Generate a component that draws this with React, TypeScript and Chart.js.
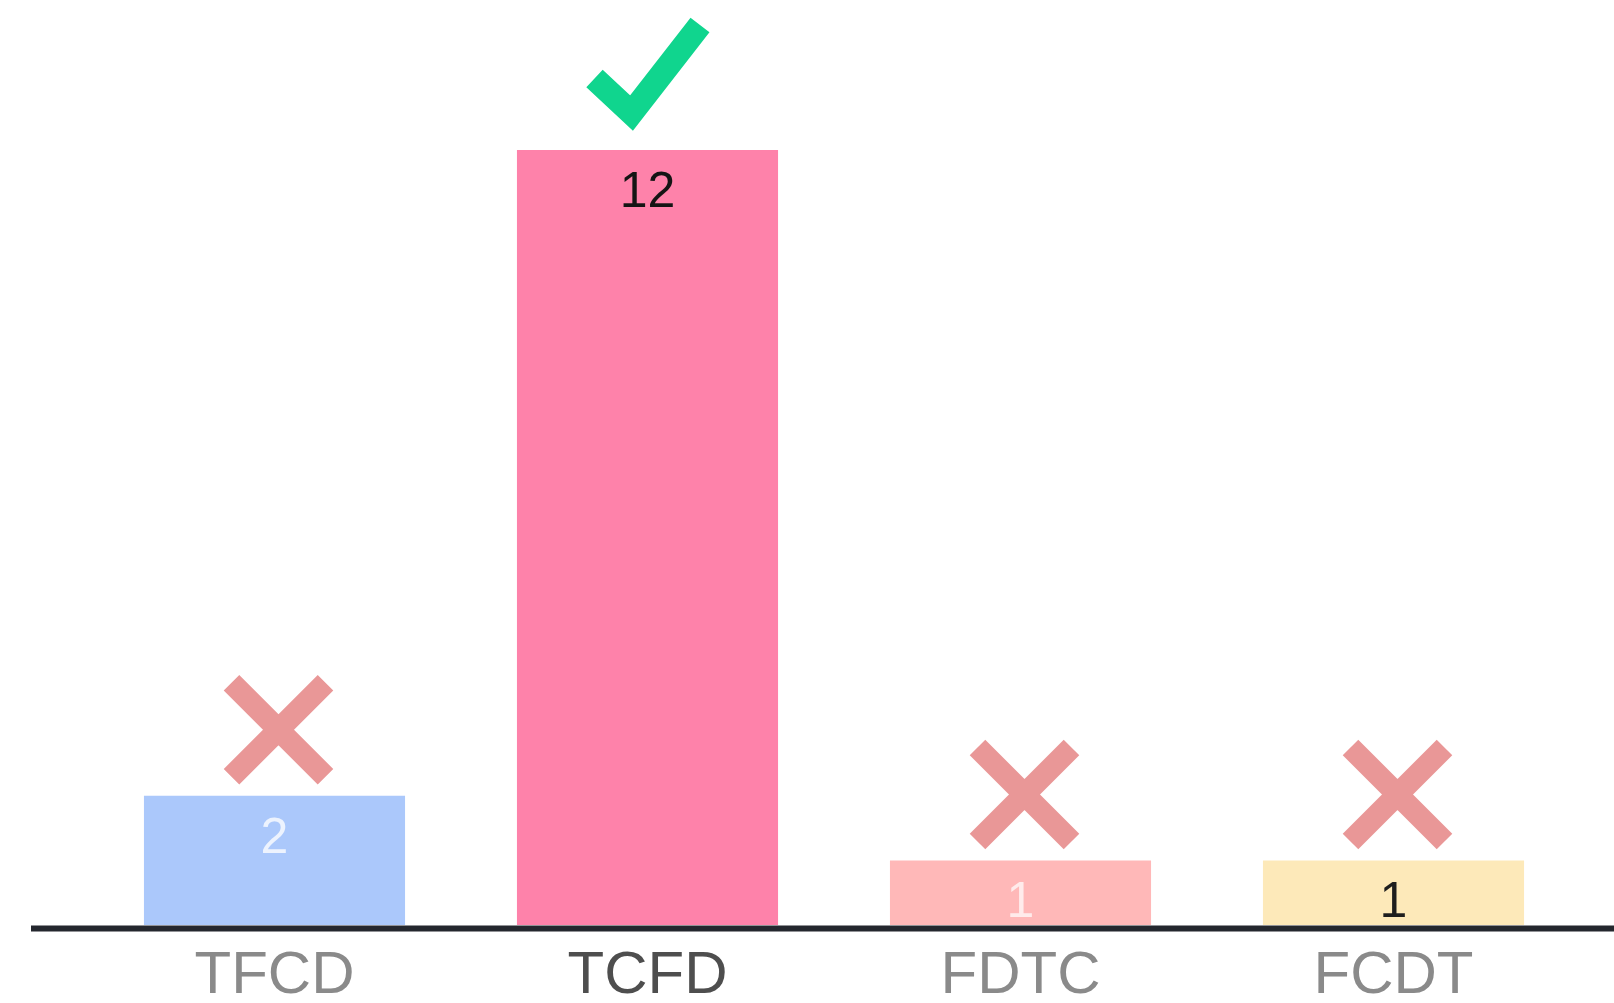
import React, { useEffect, useRef } from "react";
import { Chart, registerables } from "chart.js";

Chart.register(...registerables);

// Orderings and how many answers picked each
const categories = ["TFCD", "TCFD", "FDTC", "FCDT"];
const counts = [2, 12, 1, 1];
const barColors = ["#abc8fb", "#fe82aa", "#ffb8b8", "#fde9b9"];
const valueLabelColors = ["rgba(255,255,255,0.78)", "#141414", "rgba(255,255,255,0.72)", "#1e1e1e"];
const tickColors = ["#8a8a8a", "#4e4e4e", "#8a8a8a", "#8a8a8a"];
// Which ordering is the correct one
const verdicts = ["wrong", "right", "wrong", "wrong"];

const FONT = "'Liberation Sans', Arial, Helvetica, sans-serif";

// Draws the value inside each bar, the tick / cross marker above it and the base line
const decorations = {
  id: "decorations",
  afterDatasetsDraw(chart: any) {
    const { ctx, chartArea } = chart;
    const meta = chart.getDatasetMeta(0);
    const yScale = chart.scales.y;
    const base = yScale.getPixelForValue(0);

    ctx.save();
    // base line running across the page
    ctx.strokeStyle = "#24272e";
    ctx.lineWidth = 6;
    ctx.beginPath();
    ctx.moveTo(chartArea.left - 57, base + 3.5);
    ctx.lineTo(chart.width, base + 3.5);
    ctx.stroke();

    meta.data.forEach((bar: any, i: number) => {
      const cx = bar.x;
      const top = bar.y;

      // value label
      ctx.fillStyle = valueLabelColors[i];
      ctx.font = `50px ${FONT}`;
      ctx.textAlign = "center";
      ctx.textBaseline = "middle";
      ctx.fillText(String(counts[i]), cx, top + 43);

      // marker
      ctx.lineCap = "butt";
      ctx.lineJoin = "miter";
      if (verdicts[i] === "right") {
        ctx.strokeStyle = "#10d58e";
        ctx.lineWidth = 24;
        ctx.beginPath();
        ctx.moveTo(cx - 53, top - 71.5);
        ctx.lineTo(cx - 16, top - 37);
        ctx.lineTo(cx + 52.5, top - 125);
        ctx.stroke();
      } else {
        const mx = cx + 4;
        const my = top - 66;
        const h = 47;
        ctx.strokeStyle = "#e99797";
        ctx.lineWidth = 22;
        ctx.beginPath();
        ctx.moveTo(mx - h, my - h);
        ctx.lineTo(mx + h, my + h);
        ctx.moveTo(mx + h, my - h);
        ctx.lineTo(mx - h, my + h);
        ctx.stroke();
      }
    });
    ctx.restore();
  },
};

export default function App() {
  const canvasRef = useRef<HTMLCanvasElement | null>(null);

  useEffect(() => {
    if (!canvasRef.current) return;
    const chart = new Chart(canvasRef.current, {
      type: "bar",
      data: {
        labels: categories,
        datasets: [
          {
            data: counts,
            backgroundColor: barColors,
            borderWidth: 0,
            categoryPercentage: 1,
            barPercentage: 0.7,
          },
        ],
      },
      options: {
        animation: false,
        responsive: true,
        maintainAspectRatio: false,
        layout: { padding: { top: 150, left: 88, right: 34, bottom: 0 } },
        plugins: {
          legend: { display: false },
          tooltip: { enabled: false },
        },
        scales: {
          x: {
            grid: { display: false, drawTicks: false },
            border: { display: false },
            ticks: {
              color: (c: any) => tickColors[c.index] ?? "#8a8a8a",
              font: { family: FONT, size: 60, lineHeight: 1 },
              padding: 21,
              maxRotation: 0,
            },
            afterFit: (scale: any) => {
              scale.height = 78;
            },
          },
          y: {
            display: false,
            min: 0,
            max: 12,
          },
        },
      },
      plugins: [decorations],
    });
    return () => chart.destroy();
  }, []);

  return (
    <div style={{ position: "fixed", left: 0, top: 0, width: 1614, height: 1003, background: "#fff" }}>
      <canvas ref={canvasRef} />
    </div>
  );
}
